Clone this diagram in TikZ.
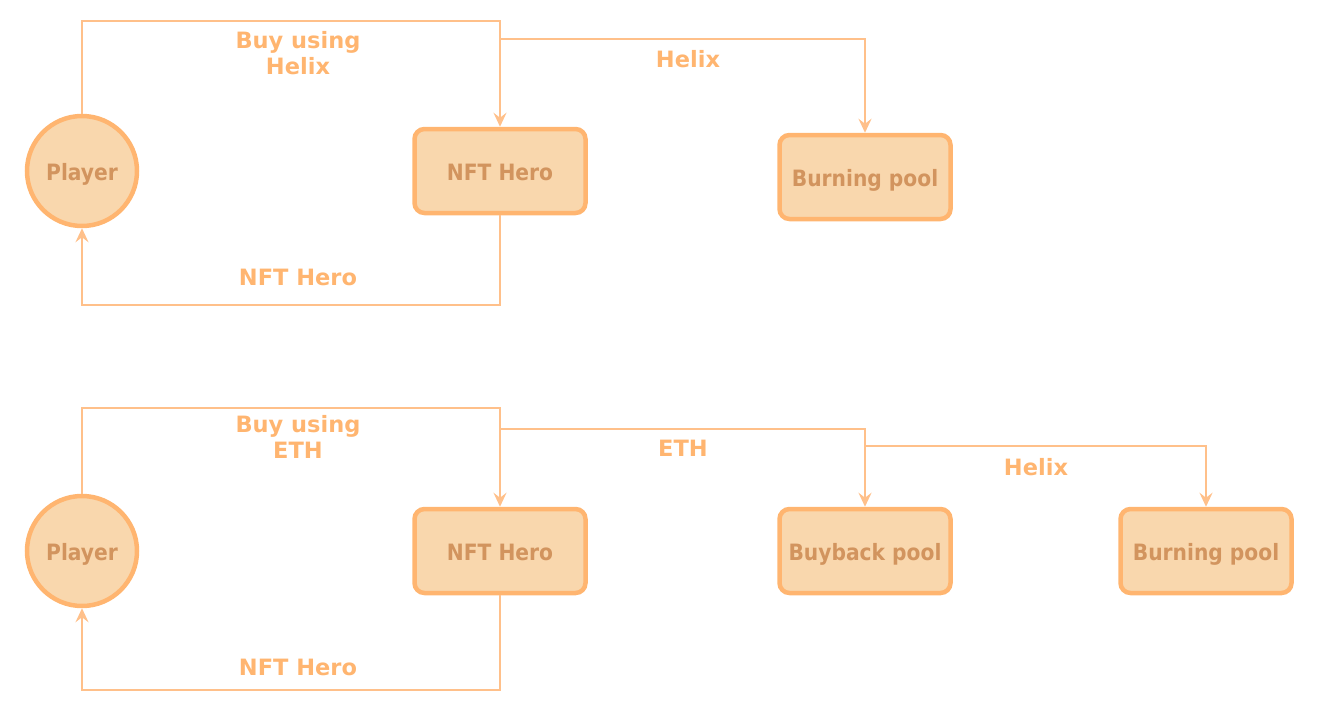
\documentclass[tikz,border=0pt]{standalone}
\usepackage{fontspec}
\setmainfont{DejaVu Sans}
\newfontfamily\condfont{DejaVu Sans Condensed}
\usetikzlibrary{arrows.meta}
\definecolor{strokeor}{RGB}{255,181,112}
\definecolor{fillor}{RGB}{249,215,173}
\definecolor{textor}{RGB}{210,148,94}
\definecolor{lineor}{RGB}{255,192,138}
\begin{document}
\begin{tikzpicture}[x=1pt,y=-1pt,
  box/.style={draw=strokeor,fill=fillor,line width=4.5pt,rounded corners=10pt,minimum width=171pt,minimum height=84pt,inner sep=0pt,text height=20pt,text depth=2pt,font=\condfont\bfseries\fontsize{22.5}{26}\selectfont,text=textor},
  player/.style={circle,draw=strokeor,fill=fillor,line width=4.5pt,minimum size=110pt,inner sep=0pt,text height=20pt,text depth=2pt,font=\condfont\bfseries\fontsize{22.5}{26}\selectfont,text=textor},
  conn/.style={draw=lineor,line width=2pt,-{Stealth[length=14pt,width=13pt,inset=5pt]}},
  lbl/.style={text=strokeor,font=\bfseries\fontsize{22.5}{26.5}\selectfont,align=center,inner sep=0pt}]
\useasboundingbox (0,0) rectangle (1326,712);
% top diagram
\node[player] (p1) at (82,171) {Player};
\node[box] (h1) at (500,171) {NFT Hero};
\node[box] (b1) at (865,177) {Burning pool};
\coordinate (t1a) at (82,21);
\coordinate (t1b) at (500,21);
\coordinate (s1a) at (500,39);
\coordinate (s1b) at (865,39);
\coordinate (r1a) at (500,305);
\coordinate (r1b) at (82,305);
\draw[conn] (p1.north) -- (t1a) -- (t1b) -- (h1.north);
\draw[conn] (s1a) -- (s1b) -- (b1.north);
\draw[conn] (h1.south) -- (r1a) -- (r1b) -- (p1.south);
\node[lbl] (l1) at (298,53) {Buy using\\Helix};
\node[lbl] (l2) at (688,59) {Helix};
\node[lbl] (l3) at (298,277) {NFT Hero};
% bottom diagram
\node[player] (p2) at (82,551) {Player};
\node[box] (h2) at (500,551) {NFT Hero};
\node[box] (bb2) at (865,551) {Buyback pool};
\node[box] (b2) at (1206,551) {Burning pool};
\coordinate (t2a) at (82,408);
\coordinate (t2b) at (500,408);
\coordinate (s2a) at (500,429);
\coordinate (s2b) at (865,429);
\coordinate (u2a) at (865,446);
\coordinate (u2b) at (1206,446);
\coordinate (r2a) at (500,690);
\coordinate (r2b) at (82,690);
\draw[conn] (p2.north) -- (t2a) -- (t2b) -- (h2.north);
\draw[conn] (s2a) -- (s2b) -- (bb2.north);
\draw[conn] (u2a) -- (u2b) -- (b2.north);
\draw[conn] (h2.south) -- (r2a) -- (r2b) -- (p2.south);
\node[lbl] (l4) at (298,437) {Buy using\\ETH};
\node[lbl] (l5) at (683,448) {ETH};
\node[lbl] (l6) at (1036,467) {Helix};
\node[lbl] (l7) at (298,667) {NFT Hero};
\end{tikzpicture}
\end{document}
